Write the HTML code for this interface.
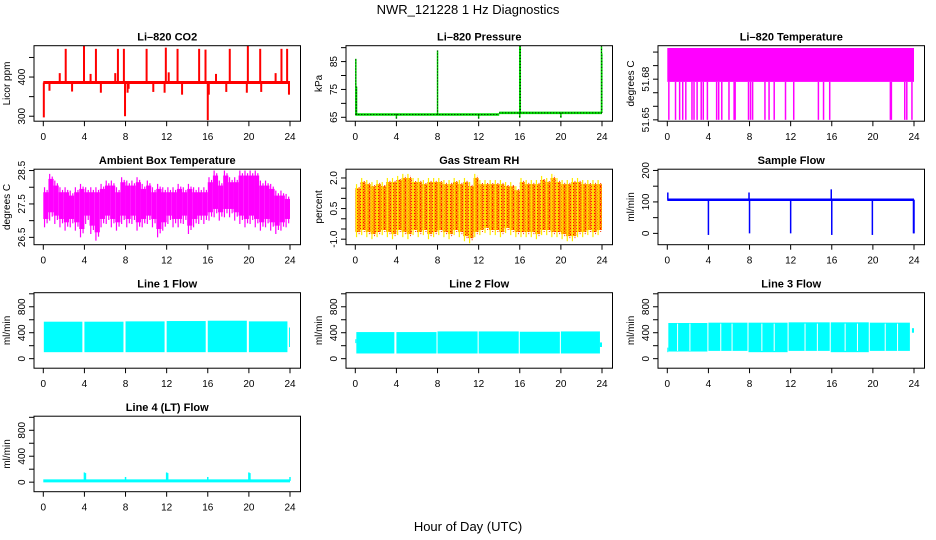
<!DOCTYPE html>
<html><head><meta charset="utf-8"><style>
body{margin:0;background:#fff;}
svg{display:block;font-family:"Liberation Sans",Arial,sans-serif;}
</style></head><body>
<svg id="chart" width="936" height="540" viewBox="0 0 936 540" xmlns="http://www.w3.org/2000/svg">
<text x="468" y="14" text-anchor="middle" font-size="13">NWR_121228  1 Hz Diagnostics</text>
<text x="468" y="531" text-anchor="middle" font-size="13">Hour of Day (UTC)</text>
</svg>
<script>
// ---- data ----
const xTicks = [0,4,8,12,16,20,24];
// CO2
const co2Base = 386;
const co2SpikeHours = [2.18,3.96,5.12,7.26,7.84,10.05,11.92,13.06,15.16,15.78,18.14,19.9,21.1,23.17,23.72,0.05,7.95,16.0,23.9,0.6,2.8,5.6,8.2,10.7,11.8,13.5,17.8,19.8,21.2,1.6,4.6,7.0,12.2,16.8,22.6,8.3,16.1];
const co2SpikeVals  = [472,480,472,472,472,472,475,472,472,470,472,480,472,472,472,297,300,290,355,365,363,360,360,362,360,355,362,360,362,410,408,410,412,408,410,370,355];
// Pressure
const presSegStart = [0,14];
const presSegEnd = [14,24];
const presSegVal = [66,66.6];
const presSpikeHours = [0.05,0.12,8.0,16.0,16.05,23.95,23.98,4.0,12.0,20.0,16.0];
const presSpikeVals  = [86,76,89,90.5,90.5,90.5,88,64.5,64.5,64.8,64.8];
// Li-820 temperature
const tempTop = 51.703;
const tempBandLow = 51.678;
const tempSpikeHours = [0.15,0.8,1.2,1.5,1.8,2.4,2.6,2.9,3.3,3.5,3.9,4.8,5.0,5.3,6.0,6.5,6.6,7.9,8.1,8.3,9.5,9.9,10.4,11.5,12.3,14.7,15.2,15.8,21.7,21.8,23.1,23.3,23.8];
const tempSpikeVals = [51.65,51.65,51.65,51.65,51.65,51.65,51.65,51.65,51.65,51.65,51.65,51.65,51.65,51.65,51.65,51.65,51.65,51.65,51.65,51.65,51.65,51.65,51.65,51.65,51.65,51.65,51.65,51.65,51.65,51.65,51.65,51.65,51.65];
// Ambient box temperature (half-hour hi/lo)
const ambHi = [28.0,28.4,28.2,28.0,28.0,27.9,28.0,28.1,28.0,28.0,28.0,28.1,28.2,28.2,28.0,28.3,28.2,28.2,28.3,28.1,28.2,28.0,28.1,28.0,28.0,28.0,28.1,28.0,28.1,28.0,28.0,28.0,28.3,28.5,28.2,28.5,28.3,28.3,28.5,28.5,28.5,28.5,28.2,28.2,28.1,27.9,27.9,27.8];
const ambLo = [26.8,27.0,26.9,26.8,26.7,26.8,26.7,26.5,26.9,26.6,26.4,26.8,26.9,26.8,26.7,26.9,26.8,26.9,26.7,26.8,26.9,26.8,26.5,26.7,26.9,26.8,26.8,26.9,26.6,26.8,26.9,26.9,27.0,27.1,27.0,27.1,27.1,27.0,26.9,26.8,26.9,26.8,26.7,26.8,26.7,26.6,26.7,26.8];
// Gas stream RH (half-hour hi/lo)
const rhHi = [1.7,2.0,1.9,1.8,1.9,1.8,2.0,2.0,2.1,2.2,2.2,2.0,2.0,1.9,2.0,2.0,2.0,1.9,1.9,2.0,1.9,2.0,1.8,2.2,1.9,1.9,1.9,1.9,1.9,1.8,1.8,1.6,2.0,1.9,1.9,1.9,2.1,2.0,2.2,2.0,1.9,1.9,2.0,2.0,1.9,1.9,1.9,1.9];
const rhLo = [-0.9,-0.8,-0.9,-1.0,-0.9,-0.8,-0.9,-1.0,-0.8,-0.9,-1.0,-0.8,-0.9,-0.8,-1.0,-0.9,-0.8,-0.9,-1.0,-0.8,-0.9,-1.1,-1.2,-0.9,-0.8,-0.7,-0.8,-0.8,-0.9,-0.7,-0.8,-0.9,-0.9,-0.9,-0.9,-1.0,-0.8,-0.8,-0.9,-0.9,-1.0,-1.1,-1.1,-0.9,-0.9,-0.8,-0.9,-0.8];
// Sample flow
const sfBase = 107;
const sfSpikeHours = [0.05,4.0,7.95,8.0,12.0,15.95,16.0,19.95,23.95,24.0];
const sfSpikeVals  = [130,-5,130,0,0,140,-5,-5,0,0];
// Line flows: segments with lo/hi
const l1Start = [0.05,4.0,8.0,12.0,16.0,20.0,23.9];
const l1End   = [3.8,7.8,11.8,15.8,19.8,23.75,24.0];
const l1Hi    = [570,570,575,580,585,575,480];
const l1Lo    = [100,100,100,100,100,100,180];
const l2Start = [0.0,0.1,4.0,8.0,12.0,16.0,20.0,23.8];
const l2End   = [0.1,3.8,7.9,11.9,15.9,19.9,23.8,24.0];
const l2Hi    = [300,410,410,420,420,415,420,250];
const l2Lo    = [240,80,80,80,80,80,80,180];
const l3Start = [0.0,0.1,4.0,7.9,11.8,15.9,19.7,23.8];
const l3End   = [0.1,3.9,7.8,11.7,15.8,19.6,23.6,24.0];
const l3Hi    = [170,550,555,555,560,560,555,470];
const l3Lo    = [100,110,120,100,120,100,120,400];
const l3GapHours = [1.0,2.2,5.2,6.3,9.2,10.4,13.4,14.6,17.3,18.5,21.2,22.4];
// Line 4
const l4Base = 20;
const l4SpikeHours = [4.0,4.1,8.0,12.0,12.1,16.0,20.0,20.1,24.0];
const l4SpikeVals  = [150,140,80,150,140,80,150,140,80];

// ---- layout ----
const svg = document.getElementById('chart');
const NS = 'http://www.w3.org/2000/svg';
function mk(tag, attrs, parent){ const e=document.createElementNS(NS,tag); for(const k in attrs) e.setAttribute(k,attrs[k]); (parent||svg).appendChild(e); return e; }

function panel(col,row,name,title,ylab,ylim,yticks,ylabels){
  const L=34+312*col, W=266.5, T=45.7+123.5*row, H=75.5;
  const g=mk('g',{});
  
  
  const xs=h=>L+9.3+h*(246.7/24);
  const ys=v=>T+H-(v-ylim[0])/(ylim[1]-ylim[0])*H;
  const t=mk('text',{x:L+W/2,y:T-5,'text-anchor':'middle','font-size':'11','font-weight':'bold'},g);
  t.textContent=title;
  
  
  const yl=mk('text',{transform:`translate(${L-24},${T+H/2}) rotate(-90)`,'text-anchor':'middle','font-size':'10'},g);
  yl.textContent=ylab;
  
  
  const marks=mk('g',{},g);
  
  
  // axes
  const ax=mk('g',{stroke:'#000','stroke-width':'1'},g);
  
  
  xTicks.forEach(h=>{
    mk('line',{x1:xs(h),x2:xs(h),y1:T+H,y2:T+H+5},ax);
    const tl=mk('text',{x:xs(h),y:T+H+19,'text-anchor':'middle','font-size':'10',stroke:'none'},g);
    tl.textContent=h;
    
    
  });
  yticks.forEach(v=>{
    mk('line',{x1:L-5,x2:L,y1:ys(v),y2:ys(v)},ax);
  });
  ylabels.forEach(v=>{
    const tl=mk('text',{transform:`translate(${L-9},${ys(v)}) rotate(-90)`,'text-anchor':'middle','font-size':'10'},g);
    tl.textContent=v;
    
    
  });
  const box=mk('rect',{x:L,y:T,width:W,height:H,fill:'none',stroke:'#000','stroke-width':'1'},g);
  
  
  return {xs,ys,marks};
}
function vline(p,h,v1,v2,color,w,extra){
  const l=mk('line',Object.assign({x1:p.xs(h),x2:p.xs(h),y1:p.ys(v1),y2:p.ys(v2),stroke:color,'stroke-width':w},extra||{}),p.marks);
  return l;
}
function hline(p,h1,h2,v,color,w,extra){
  return mk('line',Object.assign({x1:p.xs(h1),x2:p.xs(h2),y1:p.ys(v),y2:p.ys(v),stroke:color,'stroke-width':w},extra||{}),p.marks);
}
function band(p,h1,h2,lo,hi,color){
  const r=mk('rect',{x:p.xs(h1),y:p.ys(hi),width:Math.max(0.8,p.xs(h2)-p.xs(h1)),height:p.ys(lo)-p.ys(hi),fill:color},p.marks);
  return r;
}

// CO2
let p=panel(0,0,'co2','Li\u2013820 CO2','Licor ppm',[287.3,480],[300,350,400,450],[300,400]);
hline(p,0,24,co2Base,'#ff0000',3);
co2SpikeHours.forEach((h,i)=>{ const l=vline(p,h,co2Base,co2SpikeVals[i],'#ff0000',2);

 });

// Pressure
p=panel(1,0,'pressure','Li\u2013820 Pressure','kPa',[63.6,90.7],[65,70,75,80,85,90],[65,75,85]);
presSegStart.forEach((s,i)=>{ hline(p,s,presSegEnd[i],presSegVal[i],'#00dd00',2.5); hline(p,s,presSegEnd[i],presSegVal[i],'#000',1,{'stroke-dasharray':'1 2'}); });
presSpikeHours.forEach((h,i)=>{ const base=h<14?66:66.6; const l=vline(p,h,base,presSpikeVals[i],'#00dd00',1.5);


vline(p,h,base,presSpikeVals[i],'#000',1,{'stroke-dasharray':'1 2'}); });

// Temperature
p=panel(2,0,'li820-temperature','Li\u2013820 Temperature','degrees C',[51.649,51.7047],[51.65,51.66,51.67,51.68,51.69,51.70],['51.65','51.68']);
band(p,0,24,tempBandLow,tempTop,'#ff00ff');
tempSpikeHours.forEach((h,i)=>{ const l=vline(p,h,tempBandLow,tempSpikeVals[i],'#ff00ff',1.5);

 });

// Ambient
p=panel(0,1,'ambient-temperature','Ambient Box Temperature','degrees C',[26.28,28.54],[26.5,27,27.5,28,28.5],['26.5','27.5','28.5']);
ambHi.forEach((v,i)=>{ const h=i*0.5; band(p,h,h+0.5,ambLo[i]+0.25,v-0.15,'#ff00ff');
vline(p,h+0.12,ambLo[i],v,'#ff00ff',1.2); vline(p,h+0.37,ambLo[i]+0.12,v-0.08,'#ff00ff',1.2); });

// RH
p=panel(1,1,'gas-rh','Gas Stream RH','percent',[-1.27,2.43],[-1,-0.5,0,0.5,1,1.5,2],['-1.0','0.5','2.0']);
const defs=mk('defs',{});
const pat=mk('pattern',{id:'rhpat',width:'3',height:'3',patternUnits:'userSpaceOnUse'},defs);
mk('rect',{width:3,height:3,fill:'#ffbb00'},pat);
mk('rect',{x:0,y:0,width:1,height:1,fill:'#ff0000'},pat);
mk('rect',{x:1.5,y:1.5,width:1,height:1,fill:'#ff2000'},pat);
rhHi.forEach((v,i)=>{ const h=i*0.5; band(p,h,h+0.5,rhLo[i]+0.25,v-0.2,'url(#rhpat)');
vline(p,h+0.12,rhLo[i],v,'#ffee00',1.2); vline(p,h+0.37,rhLo[i]+0.15,v-0.1,'#ff3300',1,{'stroke-dasharray':'1 1'}); });

// Sample flow
p=panel(2,1,'sample-flow','Sample Flow','ml/min',[-36,204],[0,50,100,150,200],[0,100,200]);
hline(p,0,24,sfBase,'#0000ff',2.5);
sfSpikeHours.forEach((h,i)=>{ const l=vline(p,h,sfBase,sfSpikeVals[i],'#0000ff',1.5);

 });

// Line flows
const flowTicks=[0,200,400,600,800,1000], flowLabels=[0,400,800];
function flow(col,row,name,title,st,en,lo,hi,gaps){
  const q=panel(col,row,name,title,'ml/min',[-147,1017],flowTicks,flowLabels);
  st.forEach((s,i)=>{ const r=band(q,s,en[i],lo[i],hi[i],'#00ffff');
  
   });
  (gaps||[]).forEach(h=>vline(q,h,120,540,'#ffffff',1));
  return q;
}
flow(0,2,'line1-flow','Line 1 Flow',l1Start,l1End,l1Lo,l1Hi);
flow(1,2,'line2-flow','Line 2 Flow',l2Start,l2End,l2Lo,l2Hi);
flow(2,2,'line3-flow','Line 3 Flow',l3Start,l3End,l3Lo,l3Hi,l3GapHours);
p=panel(0,3,'line4-flow','Line 4 (LT) Flow','ml/min',[-147,1017],flowTicks,flowLabels);
hline(p,0,24,l4Base,'#00ffff',3);
l4SpikeHours.forEach((h,i)=>{ const l=vline(p,h,l4Base,l4SpikeVals[i],'#00ffff',1.5);

 });
</script>
</body></html>
